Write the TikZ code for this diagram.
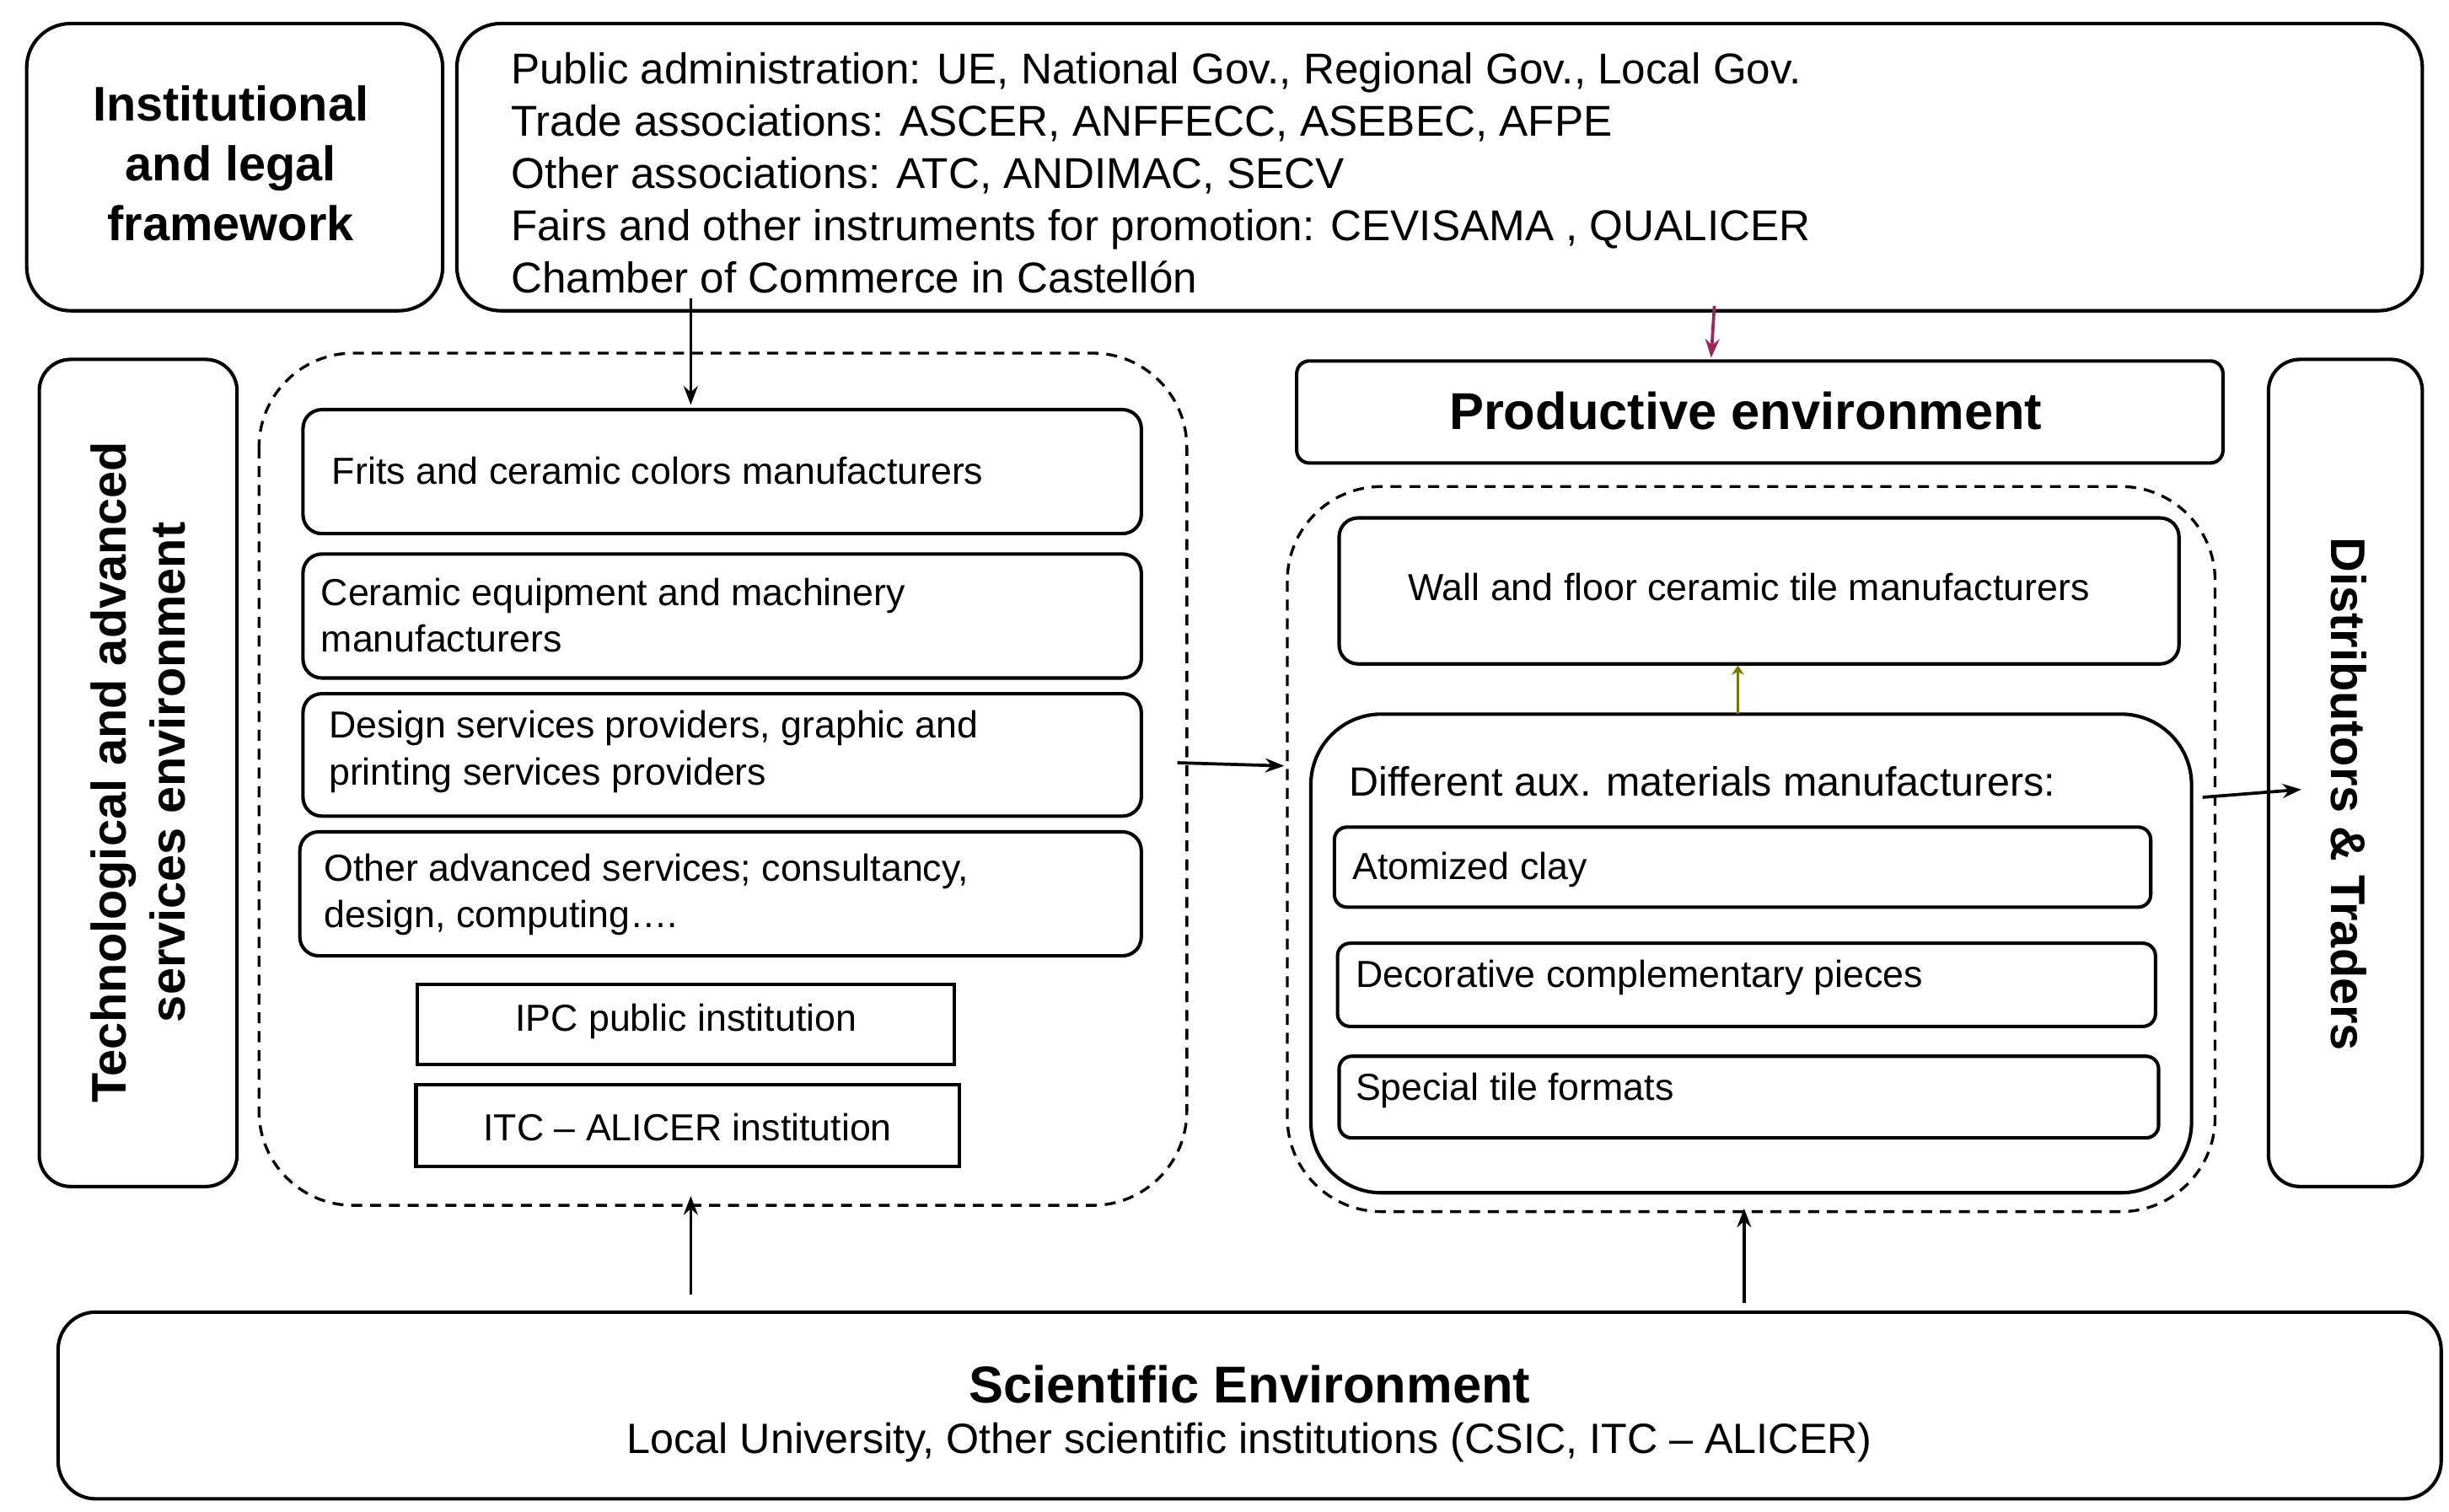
\documentclass[tikz,border=0pt]{standalone}
\usepackage{fontspec}
\setmainfont{Liberation Sans}
\usetikzlibrary{arrows.meta}
\begin{document}
\begin{tikzpicture}[x=1pt,y=-1pt,
 rbox/.style={draw,line width=2.2pt,rounded corners=12pt},
 sbox/.style={draw,line width=2.2pt},
 dbox/.style={draw,dash pattern=on 7pt off 5pt,line width=1.8pt,rounded corners=60pt},
 arr/.style={-{Stealth[length=12pt,width=9pt]},line width=2pt},
 t/.style={font=\fontsize{24}{30}\selectfont,anchor=west,align=left},
 tb/.style={font=\fontsize{31}{38}\selectfont\bfseries,align=center}]
\useasboundingbox (0,0) rectangle (1560,963);
\draw[rbox,rounded corners=28pt] (17,15) rectangle (282,198);
\node[tb] (inst) at (147,104) {Institutional\\and legal\\framework};
\draw[rbox,rounded corners=28pt] (291,15) rectangle (1543,198);
\node[t,font=\fontsize{27.5}{33.3}\selectfont] (top) at (322,110) {Public administration: UE, National Gov., Regional Gov., Local Gov.\\Trade associations: ASCER, ANFFECC, ASEBEC, AFPE\\Other associations: ATC, ANDIMAC,  SECV\\Fairs and other instruments for promotion: CEVISAMA , QUALICER\\Chamber of Commerce in Castellón};
\draw[rbox,rounded corners=20pt] (25,229) rectangle (151,756);
\node[tb] at (0,0) {};
\node[tb,rotate=90] (tech) at (88,492) {Technological and advanced\\services environment};
\draw[dbox] (165,225) rectangle (756,768);
\draw[rbox] (193,261) rectangle (727,340); \node[t] (f) at (208,300) {Frits and ceramic colors manufacturers};
\draw[rbox] (193,353) rectangle (727,432); \node[t] (c) at (201,392) {Ceramic equipment and machinery\\manufacturers};
\draw[rbox] (193,442) rectangle (727,520); \node[t] (d) at (206,479) {Design services providers, graphic and\\printing services providers};
\draw[rbox] (191,530) rectangle (727,609); \node[t] (o) at (203,570) {Other advanced services; consultancy,\\design, computing….};
\draw[sbox] (266,627) rectangle (608,678); \node[t,anchor=center] (ipc) at (437,651) {IPC public institution};
\draw[sbox] (265,691) rectangle (611,743); \node[t,anchor=center] (itc) at (438,718) {ITC – ALICER institution};
\draw[rbox,rounded corners=8pt] (826,230) rectangle (1416,295);
\node[tb,font=\fontsize{33}{38}\selectfont\bfseries] (prod) at (1112,262) {Productive environment};
\draw[dbox] (820,310) rectangle (1411,772);
\draw[rbox] (853,330) rectangle (1388,423); \node[t,anchor=center] (w) at (1114,374) {Wall and floor ceramic tile manufacturers};
\draw[rbox,rounded corners=45pt] (835,455) rectangle (1396,760);
\node[t,font=\fontsize{26}{30}\selectfont] (aux) at (856,498) {Different aux. materials manufacturers:};
\draw[rbox,rounded corners=8pt] (850,527) rectangle (1370,578); \node[t] (a) at (858,554) {Atomized clay};
\draw[rbox,rounded corners=8pt] (852,601) rectangle (1373,654); \node[t] (dc) at (860,623) {Decorative complementary pieces};
\draw[rbox,rounded corners=8pt] (853,673) rectangle (1375,725); \node[t] (s) at (860,695) {Special tile formats};
\draw[rbox,rounded corners=20pt] (1445,229) rectangle (1543,756);
\node[tb,rotate=-90] (dist) at (1496,506) {Distributors \& Traders};
\draw[rbox,rounded corners=24pt] (37,836) rectangle (1555,955);
\node[tb,font=\fontsize{33}{38}\selectfont\bfseries] (sci) at (796,882) {Scientific Environment};
\node[t,anchor=center,font=\fontsize{27}{30}\selectfont] (sci2) at (796,919) {Local University, Other scientific institutions (CSIC, ITC – ALICER)};
\coordinate (a1) at (440,190); \coordinate (a2) at (440,258);
\coordinate (b1) at (1092,195); \coordinate (b2) at (1090,228);
\coordinate (c1) at (750,486); \coordinate (c2) at (818,488);
\coordinate (d1) at (1107,455); \coordinate (d2) at (1107,424);
\coordinate (e1) at (1403,508); \coordinate (e2) at (1466,503);
\coordinate (g1) at (440,825); \coordinate (g2) at (440,762);
\coordinate (h1) at (1111,830); \coordinate (h2) at (1111,770);
\draw[arr] (a1) -- (a2);
\draw[arr,color={rgb,255:red,150;green,40;blue,90}] (b1) -- (b2);
\draw[arr] (c1) -- (c2);
\draw[-{Stealth[length=6pt,width=8pt]},line width=2pt,color={rgb,255:red,120;green,120;blue,0}] (d1) -- (d2);
\draw[arr] (e1) -- (e2);
\draw[arr] (g1) -- (g2);
\draw[arr] (h1) -- (h2);
\end{tikzpicture}
\end{document}
